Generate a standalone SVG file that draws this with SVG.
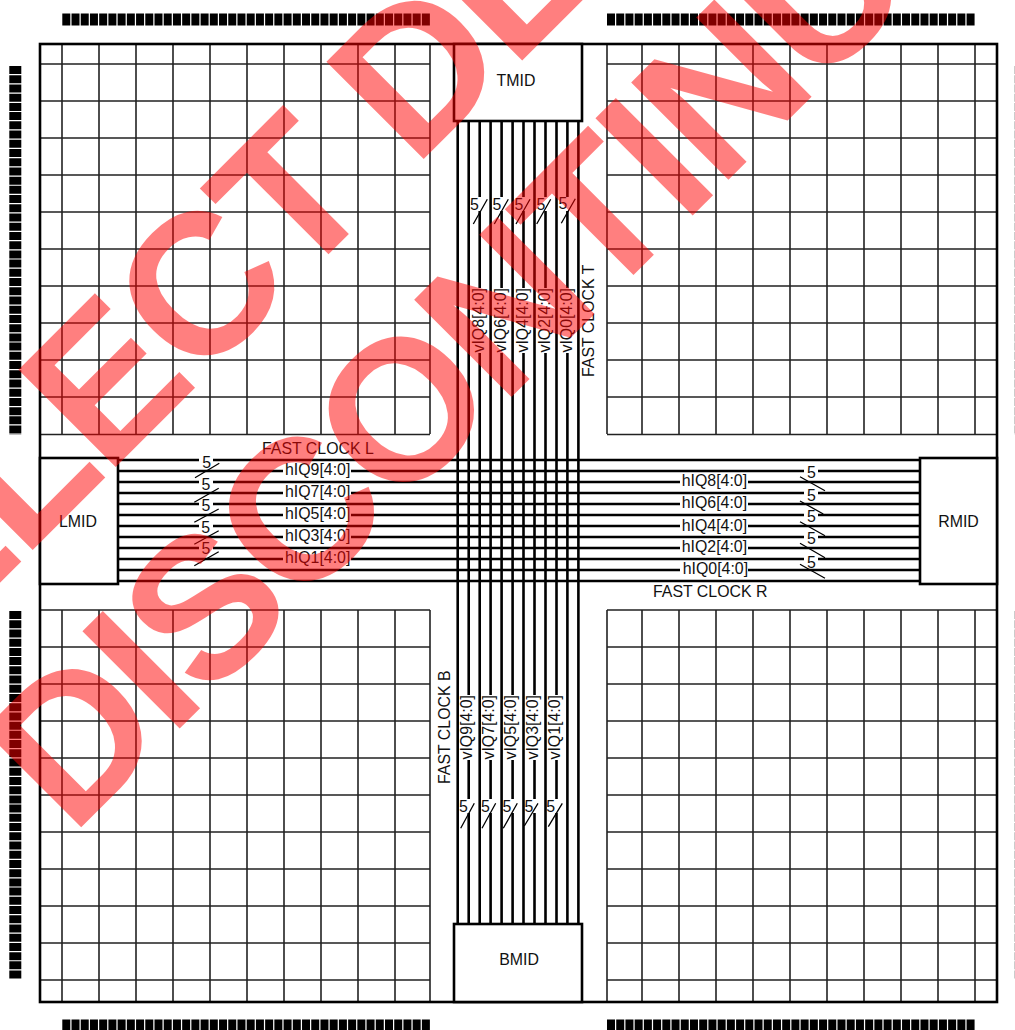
<svg xmlns="http://www.w3.org/2000/svg" width="1015" height="1030" viewBox="0 0 1015 1030">
<style>
text{font-family:"Liberation Sans",Arial,sans-serif;font-size:15.9px;fill:#111}
.g{fill:none;stroke:#222;stroke-width:1.6}
.b{fill:#fff;stroke:#000;stroke-width:2.6}
.bus{fill:none;stroke:#000;stroke-width:2.6}
.s{fill:none;stroke:#000;stroke-width:1.3}
.w{fill:#fff}
.m{text-anchor:middle}
.pin{fill:none;stroke:#000;stroke-width:12;stroke-dasharray:8 1.22}
text.wm{font-family:"Liberation Sans",Arial,sans-serif;font-weight:bold;font-size:200px;letter-spacing:-5px;fill:#f00;fill-opacity:.5}
</style>
<rect width="1015" height="1030" fill="#fff"/>
<g id="pins">
<path class="pin" d="M62.3 19.5H431M607 19.5H975M62.3 1025.5H431M607 1025.5H975M15.3 66V435M15.3 611V979M1020.8 66V435M1020.8 611V979"/>
</g>
<g id="grid">
<path class="g" d="M62 44V434M99 44V434M136 44V434M173 44V434M210 44V434M247 44V434M284 44V434M321 44V434M358 44V434M395 44V434M430 44V434
M62 610V1002M99 610V1002M136 610V1002M173 610V1002M210 610V1002M247 610V1002M284 610V1002M321 610V1002M358 610V1002M395 610V1002M430 610V1002
M607 44V434M642 44V434M679 44V434M716 44V434M753 44V434M790 44V434M827 44V434M864 44V434M901 44V434M938 44V434M975 44V434
M607 610V1002M642 610V1002M679 610V1002M716 610V1002M753 610V1002M790 610V1002M827 610V1002M864 610V1002M901 610V1002M938 610V1002M975 610V1002
M40 64H430M40 101H430M40 138H430M40 175H430M40 212H430M40 249H430M40 286H430M40 323H430M40 360H430M40 397H430M40 434.5H430
M607 64H997M607 101H997M607 138H997M607 175H997M607 212H997M607 249H997M607 286H997M607 323H997M607 360H997M607 397H997M607 434.5H997
M40 610H430M40 647H430M40 684H430M40 721H430M40 758H430M40 795H430M40 832H430M40 869H430M40 906H430M40 943H430M40 980H430
M607 610H997M607 647H997M607 684H997M607 721H997M607 758H997M607 795H997M607 832H997M607 869H997M607 906H997M607 943H997M607 980H997"/>
<rect x="40" y="44" width="957" height="958" fill="none" stroke="#000" stroke-width="2.6"/>
</g>
<g id="connectors">
<path class="bus" d="M457.7 121V924M468.7 121V924M479.7 121V924M490.6 121V924M501.6 121V924M512.6 121V924M523.5 121V924M534.5 121V924M545.5 121V924M556.5 121V924M567.4 121V924M578.4 121V924
M118 460H920M118 471H920M118 482H920M118 493H920M118 504H920M118 515H920M118 526H920M118 537H920M118 548H920M118 559H920M118 570H920M118 581H920"/>
<g class="w">
<rect x="473" y="288" width="13" height="65"/><rect x="495" y="288" width="13" height="65"/><rect x="517" y="288" width="13" height="65"/><rect x="539" y="288" width="13" height="65"/><rect x="561" y="288" width="13" height="65"/>
<rect x="462" y="695" width="13" height="65"/><rect x="484" y="695" width="13" height="65"/><rect x="506" y="695" width="13" height="65"/><rect x="528" y="695" width="13" height="65"/><rect x="550" y="695" width="13" height="65"/>
<rect x="283" y="465" width="68" height="13"/><rect x="283" y="487" width="68" height="13"/><rect x="283" y="509" width="68" height="13"/><rect x="283" y="531" width="68" height="13"/><rect x="283" y="553" width="68" height="13"/>
<rect x="680" y="476" width="68" height="13"/><rect x="680" y="498" width="68" height="13"/><rect x="680" y="520" width="68" height="13"/><rect x="680" y="542" width="68" height="13"/><rect x="680" y="564" width="68" height="13"/>
<rect x="199" y="455" width="14" height="13"/><rect x="199" y="477" width="14" height="13"/><rect x="199" y="498" width="14" height="13"/><rect x="199" y="520" width="14" height="13"/><rect x="199" y="541" width="14" height="13"/>
<rect x="804" y="465" width="14" height="13"/><rect x="804" y="488" width="14" height="13"/><rect x="804" y="509" width="14" height="13"/><rect x="804" y="531" width="14" height="13"/><rect x="804" y="555" width="14" height="13"/>
<rect x="471" y="197" width="11" height="14"/><rect x="493" y="197" width="11" height="14"/><rect x="515" y="197" width="11" height="14"/><rect x="537" y="197" width="11" height="14"/><rect x="559" y="197" width="11" height="14"/>
<rect x="460" y="799" width="11" height="14"/><rect x="482" y="799" width="11" height="14"/><rect x="504" y="799" width="11" height="14"/><rect x="526" y="799" width="11" height="14"/><rect x="548" y="799" width="11" height="14"/>
</g>
<path class="s" d="M195 477.700L219.300 463.300M194.300 502.300L218.700 488.300M194.300 522.300L218.700 509M194.300 544.300L218.700 530.700M194.300 565.700L218.700 551.700
M800 476.700L825 490.700M800 501L823.300 514M800 521.700L825 535.700M800 543.300L825 557.700M800 564.300L825 578.300
M473.300 224L487.300 199.300M494.300 224L508.300 199.300M516 224L530 199.300M536.700 224L550.700 199.300M561.300 223.300L575.300 198.700
M460.700 828.300L474.300 803.300M482 828.300L495.700 803.300M503.300 828.300L517.300 803.300M524.300 826L538 803.300M548.300 826.700L562.300 803.300"/>
</g>
<g id="TMID"><rect class="b" x="454" y="44" width="128" height="77"/><text class="m" x="516" y="86">TMID</text></g>
<g id="BMID"><rect class="b" x="454" y="924" width="128" height="78"/><text class="m" x="519" y="965">BMID</text></g>
<g id="LMID"><rect class="b" x="40" y="458" width="78" height="126"/><text class="m" x="78" y="527">LMID</text></g>
<g id="RMID"><rect class="b" x="920" y="458" width="77" height="126"/><text class="m" x="958.500" y="527">RMID</text></g>
<g id="labels">
<text x="262" y="454">FAST CLOCK L</text>
<text x="653" y="597">FAST CLOCK R</text>
<text transform="translate(594.300 377) rotate(-90)">FAST CLOCK T</text>
<text transform="translate(450 784) rotate(-90)">FAST CLOCK B</text>
<text x="285" y="475">hIQ9[4:0]</text><text x="285" y="497">hIQ7[4:0]</text><text x="285" y="519">hIQ5[4:0]</text><text x="285" y="541">hIQ3[4:0]</text><text x="285" y="563">hIQ1[4:0]</text>
<text x="681.700" y="486">hIQ8[4:0]</text><text x="681.700" y="508">hIQ6[4:0]</text><text x="681.700" y="530.500">hIQ4[4:0]</text><text x="681.700" y="552">hIQ2[4:0]</text><text x="682.700" y="574">hIQ0[4:0]</text>
<text transform="translate(483.500 352.500) rotate(-90)">vIQ8[4:0]</text><text transform="translate(505.700 352.500) rotate(-90)">vIQ6[4:0]</text><text transform="translate(528 352.500) rotate(-90)">vIQ4[4:0]</text><text transform="translate(550 352.500) rotate(-90)">vIQ2[4:0]</text><text transform="translate(572.300 352.500) rotate(-90)">vIQ0[4:0]</text>
<text transform="translate(472.300 759.500) rotate(-90)">vIQ9[4:0]</text><text transform="translate(494 759.500) rotate(-90)">vIQ7[4:0]</text><text transform="translate(516 759.500) rotate(-90)">vIQ5[4:0]</text><text transform="translate(538 759.500) rotate(-90)">vIQ3[4:0]</text><text transform="translate(560 759.500) rotate(-90)">vIQ1[4:0]</text>
<g class="m">
<text class="m" x="206.700" y="468">5</text><text class="m" x="206" y="490">5</text><text class="m" x="206" y="511">5</text><text class="m" x="205.700" y="533">5</text><text class="m" x="206" y="554">5</text>
<text class="m" x="811.300" y="478">5</text><text class="m" x="811.300" y="501">5</text><text class="m" x="811.300" y="522">5</text><text class="m" x="811.300" y="544">5</text><text class="m" x="811.300" y="568">5</text>
<text class="m" x="474.300" y="210">5</text><text class="m" x="497" y="210">5</text><text class="m" x="519" y="210">5</text><text class="m" x="541" y="210">5</text><text class="m" x="563" y="209">5</text>
<text class="m" x="463.300" y="812">5</text><text class="m" x="485.300" y="812">5</text><text class="m" x="507" y="812">5</text><text class="m" x="529" y="812">5</text><text class="m" x="550.700" y="812">5</text>
</g>
</g>
<g id="watermark">
<text class="wm" transform="translate(-158.300 741) rotate(-45)">SELECT DE</text>
<text class="wm" transform="translate(71.700 836.700) rotate(-45)">DISCONTINU</text>
</g>
</svg>
